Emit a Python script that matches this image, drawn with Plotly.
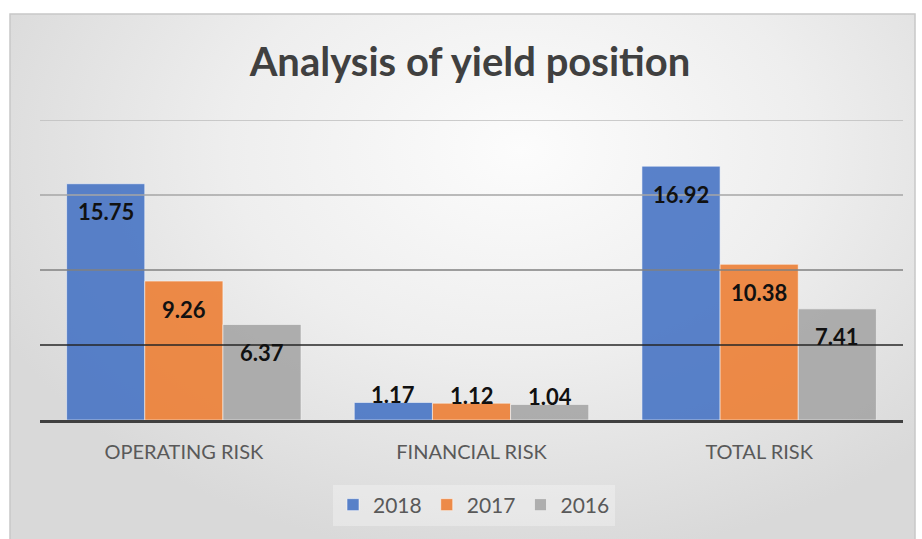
import plotly.graph_objects as go

# ---------------- data ----------------
categories = ["OPERATING RISK", "FINANCIAL RISK", "TOTAL RISK"]
years = ["2018", "2017", "2016"]
values_2018 = [15.75, 1.17, 16.92]
values_2017 = [9.26, 1.12, 10.38]
values_2016 = [6.37, 1.04, 7.41]
y_ticks = [0, 5, 10, 15, 20]
title_text = "Analysis of yield position"

# ---------------- styles ----------------
series = [values_2018, values_2017, values_2016]
colors = ["#4472C4", "#ED7D31", "#A5A5A5"]
grid_colors = ["#404040", "#262626", "#808080", "#a6a6a6", "#bdbdbd"]
W, H = 922, 539
BARGAP = 0.185
FONT = "Lato"
x_range = [-0.5, len(categories) - 0.5]

fig = go.Figure()

# background gradient (on a full-size helper subplot)
fig.add_trace(go.Scatter(
    x=[-60, 1100, 1100, -60, -60], y=[-260, -260, 560, 560, -260],
    mode="lines", line=dict(width=0), fill="toself",
    fillgradient=dict(type="radial",
                      colorscale=[[0, "#fcfcfc"], [0.5, "#eeeeee"], [1, "#d9d9d9"]]),
    hoverinfo="skip", showlegend=False, xaxis="x", yaxis="y"))

# horizontal gridlines (drawn beneath the bars)
for t, gc in zip(y_ticks[1:], grid_colors[1:]):
    fig.add_trace(go.Scatter(
        x=x_range, y=[t, t], mode="lines", line=dict(color=gc, width=1.5),
        hoverinfo="skip", showlegend=False, xaxis="x2", yaxis="y2"))

# bars
for name, vals, col in zip(years, series, colors):
    fig.add_trace(go.Bar(
        x=list(range(len(categories))), y=vals, name=name,
        marker=dict(color=col, line=dict(color="rgba(255,255,255,0.55)", width=1)),
        opacity=0.88, xaxis="x2", yaxis="y2"))

# data labels
w = (1 - BARGAP) / len(series)
annotations = []
for j, vals in enumerate(series):
    for i, v in enumerate(vals):
        inside = v > 3
        annotations.append(dict(
            x=i + (j - (len(series) - 1) / 2) * w, y=v, xref="x2", yref="y2",
            text=f"{v:.2f}", showarrow=False, yanchor="middle",
            yshift=-28 if inside else 8,
            font=dict(family=FONT, size=22, color="#111111", weight="bold")))

shapes = [
    # chart border
    dict(type="rect", xref="paper", yref="paper",
         x0=10 / W, x1=915 / W, y0=-0.02, y1=1 - 14 / H,
         line=dict(color="#c8c8c8", width=1.5), fillcolor="rgba(0,0,0,0)", layer="above"),
]

fig.update_layout(
    width=W, height=H,
    margin=dict(l=0, r=0, t=0, b=0),
    paper_bgcolor="white", plot_bgcolor="rgba(0,0,0,0)",
    barmode="group", bargap=BARGAP, bargroupgap=0,
    title=dict(text=title_text, x=470 / W, xanchor="center", y=1 - 62 / H, yanchor="middle",
               xref="paper", yref="paper",
               font=dict(family=FONT, size=40, color="#404040", weight="bold")),
    xaxis=dict(domain=[10 / W, 915 / W], range=[10, 915], visible=False, fixedrange=True),
    yaxis=dict(domain=[0, 1 - 14 / H], range=[539, 14], visible=False, fixedrange=True),
    xaxis2=dict(domain=[40 / W, 903 / W], range=x_range,
                anchor="y2", tickmode="array", tickvals=list(range(len(categories))),
                ticktext=categories, showgrid=False, zeroline=False,
                showline=True, linecolor=grid_colors[0], linewidth=3, layer="above traces",
                ticks="", ticklabelstandoff=12,
                tickfont=dict(family=FONT, size=20, color="#595959")),
    yaxis2=dict(domain=[(H - 420) / H, (H - 120) / H], range=[y_ticks[0], y_ticks[-1]],
                anchor="x2", showgrid=False, zeroline=False, showticklabels=False,
                showline=False, ticks=""),
    legend=dict(orientation="h", x=474 / W, xanchor="center", y=1 - 505 / H, yanchor="middle",
                bgcolor="rgba(255,255,255,0.3)",
                font=dict(family=FONT, size=21, color="#595959")),
    annotations=annotations, shapes=shapes,
    font=dict(family=FONT),
)

fig.write_html("out.html", config={"displayModeBar": False},
               post_script="document.body.style.margin='0';document.body.style.padding='0';")
